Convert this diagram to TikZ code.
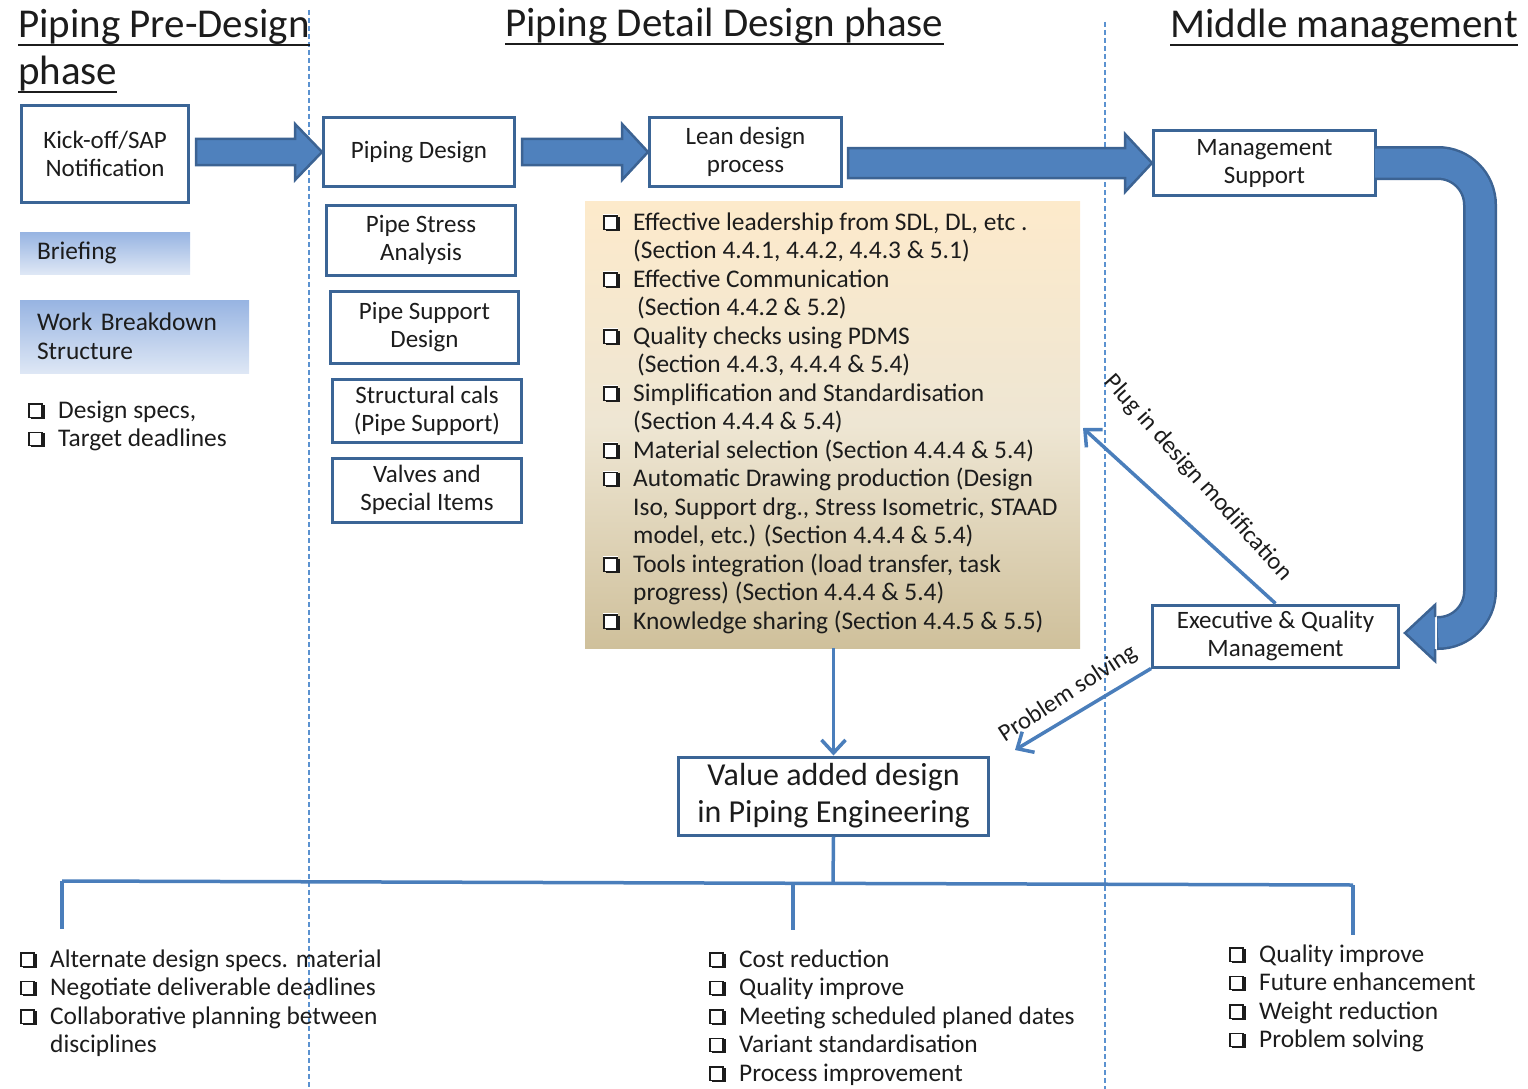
\documentclass[tikz,border=0pt]{standalone}
\usepackage{fontspec}
\setmainfont{Carlito}
\usetikzlibrary{arrows.meta,calc}

\definecolor{txt}{HTML}{1C1C1C}
\definecolor{boxline}{HTML}{3B6596}
\definecolor{connblue}{HTML}{4A7EBB}
\definecolor{arrowfill}{HTML}{4F81BD}
\definecolor{arrowline}{HTML}{3C6393}
\definecolor{dashblue}{HTML}{5B92D0}
\definecolor{bluetop}{HTML}{97B4E2}
\definecolor{bluebot}{HTML}{DEE7F5}
\definecolor{sandtop}{HTML}{FDEACB}
\definecolor{sandmid}{HTML}{EEE6D3}
\definecolor{sandbot}{HTML}{CFC09B}

% shadowed check-box bullet built from rules, and list helpers
\newcommand\cbglyph{%
  \rlap{\kern3pt\rule[-0.5pt]{13.5pt}{14pt}}%
  \rlap{\raisebox{1.5pt}{\textcolor{white}{\rule{14.5pt}{14.5pt}}}}%
  \raisebox{1.5pt}{{\fboxrule=1.4pt\fboxsep=0pt\fbox{\rule{0pt}{11.7pt}\hspace{11.7pt}}}}}
\newcommand\cbx{\makebox[30pt][l]{\cbglyph}}
\newcommand\ind{\hspace*{30pt}}
\newcommand\lst[1]{\begin{tabular}[t]{@{}l@{}}#1\end{tabular}}
% heading underline placed just under the baseline
\newcommand\ul[1]{\setbox0\hbox{#1}\rlap{\rule[-8pt]{\wd0}{2.4pt}}\box0}

% block arrow: tail point, tip point, half shaft, half head, head length
\newcommand\blockarrow[5]{%
  \draw[bigarrow] let \p1=(#1), \p2=(#2) in
    (\x1,{\y2+#3}) -- ({\x2-#5},{\y2+#3}) -- ({\x2-#5},{\y2+#4}) -- (\x2,\y2)
    -- ({\x2-#5},{\y2-#4}) -- ({\x2-#5},{\y2-#3}) -- (\x1,{\y2-#3}) -- cycle;}

\begin{document}
\begin{tikzpicture}[x=1pt,y=-1pt,
  every node/.style={text=txt, font=\fontsize{25.4}{28.5}\selectfont},
  box/.style={draw=boxline, line width=3pt, fill=white, align=center,
    inner sep=0pt, font=\fontsize{25}{28}\selectfont},
  gbox/.style={top color=bluetop, bottom color=bluebot, draw=none, align=left,
    inner xsep=17pt, inner ysep=0pt},
  listbox/.style={top color=sandtop, bottom color=sandbot, middle color=sandmid,
    draw=none, inner sep=0pt},
  txtnode/.style={inner sep=0pt, anchor=base west},
  heading/.style={inner sep=0pt, anchor=base west, font=\fontsize{41}{47}\selectfont},
  conn/.style={draw=connblue, line width=3.5pt},
  tipped/.style={conn, -{Straight Barb[length=13pt,width=24pt]}},
  bigarrow/.style={fill=arrowfill, draw=arrowline, line width=2.5pt, line join=miter},
  divider/.style={draw=dashblue, line width=1.2pt, dash pattern=on 5pt off 3pt},
  rlabel/.style={inner sep=0pt, font=\fontsize{24.5}{28}\selectfont}]

\useasboundingbox (0,0) rectangle (1528,1089);

% phase dividers
\coordinate (d1t) at (309,10);   \coordinate (d1b) at (309,1089);
\coordinate (d2t) at (1105,22);  \coordinate (d2b) at (1105,1089);
\draw[divider] (d1t) -- (d1b);
\draw[divider] (d2t) -- (d2b);

% headings
\node[heading] (h1) at (18,38) {\lst{\ul{Piping Pre-Design}\\\ul{phase}}};
\node[heading] (h2) at (505,37) {\ul{Piping Detail Design phase}};
\node[heading] (h3) at (1170,38) {\ul{Middle management}};

% process boxes
\node[box, minimum width=167pt, minimum height=97pt] (ko) at (105,154) {Kick-off/SAP\\Notification};
\node[box, minimum width=191pt, minimum height=68pt] (pd) at (419,152) {Piping Design};
\node[box, minimum width=192pt, minimum height=68pt] (lean) at (745.5,152) {Lean design\\process};
\node[box, minimum width=222pt, minimum height=64pt] (ms) at (1264.5,163) {Management\\Support};
\node[box, minimum width=189pt, minimum height=70pt] (psa) at (421,240) {Pipe Stress\\Analysis};
\node[box, minimum width=188pt, minimum height=72pt] (psd) at (424.5,327) {Pipe Support\\Design};
\node[box, minimum width=189pt, minimum height=63pt] (sc) at (427,410.5) {Structural cals\\(Pipe Support)};
\node[box, minimum width=189pt, minimum height=64pt] (vs) at (427,490) {Valves and\\Special Items};
\node[box, minimum width=246pt, minimum height=62pt] (eq) at (1275.5,636) {Executive \& Quality\\Management};
\node[box, minimum width=310pt, minimum height=78pt, font=\fontsize{32}{37}\selectfont] (va) at (833.5,796) {Value added design\\in Piping Engineering};

% pre-design notes
\node[gbox, text width=136pt, minimum height=42pt] (brief) at (105,253) {Briefing};
\node[gbox, text width=195pt, minimum height=73pt] (wbs) at (134.5,336.5) {Work Breakdown\\Structure};
\node[txtnode] (pre) at (28,418) {\lst{\cbx Design specs,\\\cbx Target deadlines}};

% lean design measures
\node[listbox, minimum width=495pt, minimum height=447pt] (list) at (832.5,424.5) {};
\node[txtnode] (listtext) at (603,230) {\lst{%
\cbx Effective leadership from SDL, DL, etc .\\
\ind(Section 4.4.1, 4.4.2, 4.4.3 \& 5.1)\\
\cbx Effective Communication\\
\ind\hspace*{4pt}(Section 4.4.2 \& 5.2)\\
\cbx Quality checks using PDMS\\
\ind\hspace*{4pt}(Section 4.4.3, 4.4.4 \& 5.4)\\
\cbx Simplification and Standardisation\\
\ind(Section 4.4.4 \& 5.4)\\
\cbx Material selection (Section 4.4.4 \& 5.4)\\
\cbx Automatic Drawing production (Design\\
\ind Iso, Support drg., Stress Isometric, STAAD\\
\ind model, etc.) (Section 4.4.4 \& 5.4)\\
\cbx Tools integration (load transfer, task\\
\ind progress) (Section 4.4.4 \& 5.4)\\
\cbx Knowledge sharing (Section 4.4.5 \& 5.5)}};

% block arrows along the main flow
\blockarrow{$(ko.east)+(6,0)$}{pd.west}{13pt}{28pt}{27pt}
\blockarrow{$(pd.east)+(6,0)$}{lean.west}{13pt}{28pt}{26pt}
\blockarrow{$(lean.east)+(5,0)$}{ms.west}{15pt}{29pt}{27pt}

% curved block arrow from management support down to executive management
\coordinate (tipq) at ($(eq.east)+(5,-3)$);
\coordinate (ctop) at (1480,163);
\coordinate (cbot) at (1480,633);
\draw[arrowline, line width=34pt, rounded corners=42pt] (ms.east) -- (ctop) -- (cbot) -- ($(tipq)+(32,0)$);
\draw[arrowfill, line width=29pt, rounded corners=42pt] ($(ms.east)+(-2,0)$) -- (ctop) -- (cbot) -- ($(tipq)+(33,0)$);
\fill[arrowfill] (tipq) -- ($(tipq)+(30,-28)$) -- ($(tipq)+(30,28)$) -- cycle;
\draw[arrowline, line width=2.5pt, line join=miter]
  ($(tipq)+(30,-16)$) -- ($(tipq)+(30,-28)$) -- (tipq) -- ($(tipq)+(30,28)$) -- ($(tipq)+(30,16)$);

% feedback connectors
\coordinate (plug) at (1083,428);
\coordinate (solve) at (1015,750);
\draw[tipped] (eq.north) -- (plug);
\draw[tipped] (eq.south west) -- (solve);
\node[rlabel, rotate=-48] (plugl) at (1198,478) {Plug in design modification};
\node[rlabel, rotate=33] (solvel) at (1068,694) {Problem solving};

% lean measures lead to value added design
\draw[tipped] (list.south -| va.north) -- (va.north);

% distribution to outcomes
\coordinate (bl) at (62,881);
\coordinate (br) at (1353,885);
\coordinate (hub) at (833,883.5);
\coordinate (bm) at (793,883.2);
\draw[conn] (va.south) -- (hub);
\draw[conn] (bl) -- (br);
\draw[conn] (bl) -- (62,929);
\draw[conn] (bm) -- (793,930);
\draw[conn] (br) -- (1353,935);

% outcome lists
\node[txtnode] (out1) at (20,967) {\lst{\cbx Alternate design specs. material\\
\cbx Negotiate deliverable deadlines\\
\cbx Collaborative planning between\\
\ind disciplines}};
\node[txtnode] (out2) at (709,967) {\lst{\cbx Cost reduction\\
\cbx Quality improve\\
\cbx Meeting scheduled planed dates\\
\cbx Variant standardisation\\
\cbx Process improvement}};
\node[txtnode] (out3) at (1229,962) {\lst{\cbx Quality improve\\
\cbx Future enhancement\\
\cbx Weight reduction\\
\cbx Problem solving}};
\end{tikzpicture}
\end{document}
